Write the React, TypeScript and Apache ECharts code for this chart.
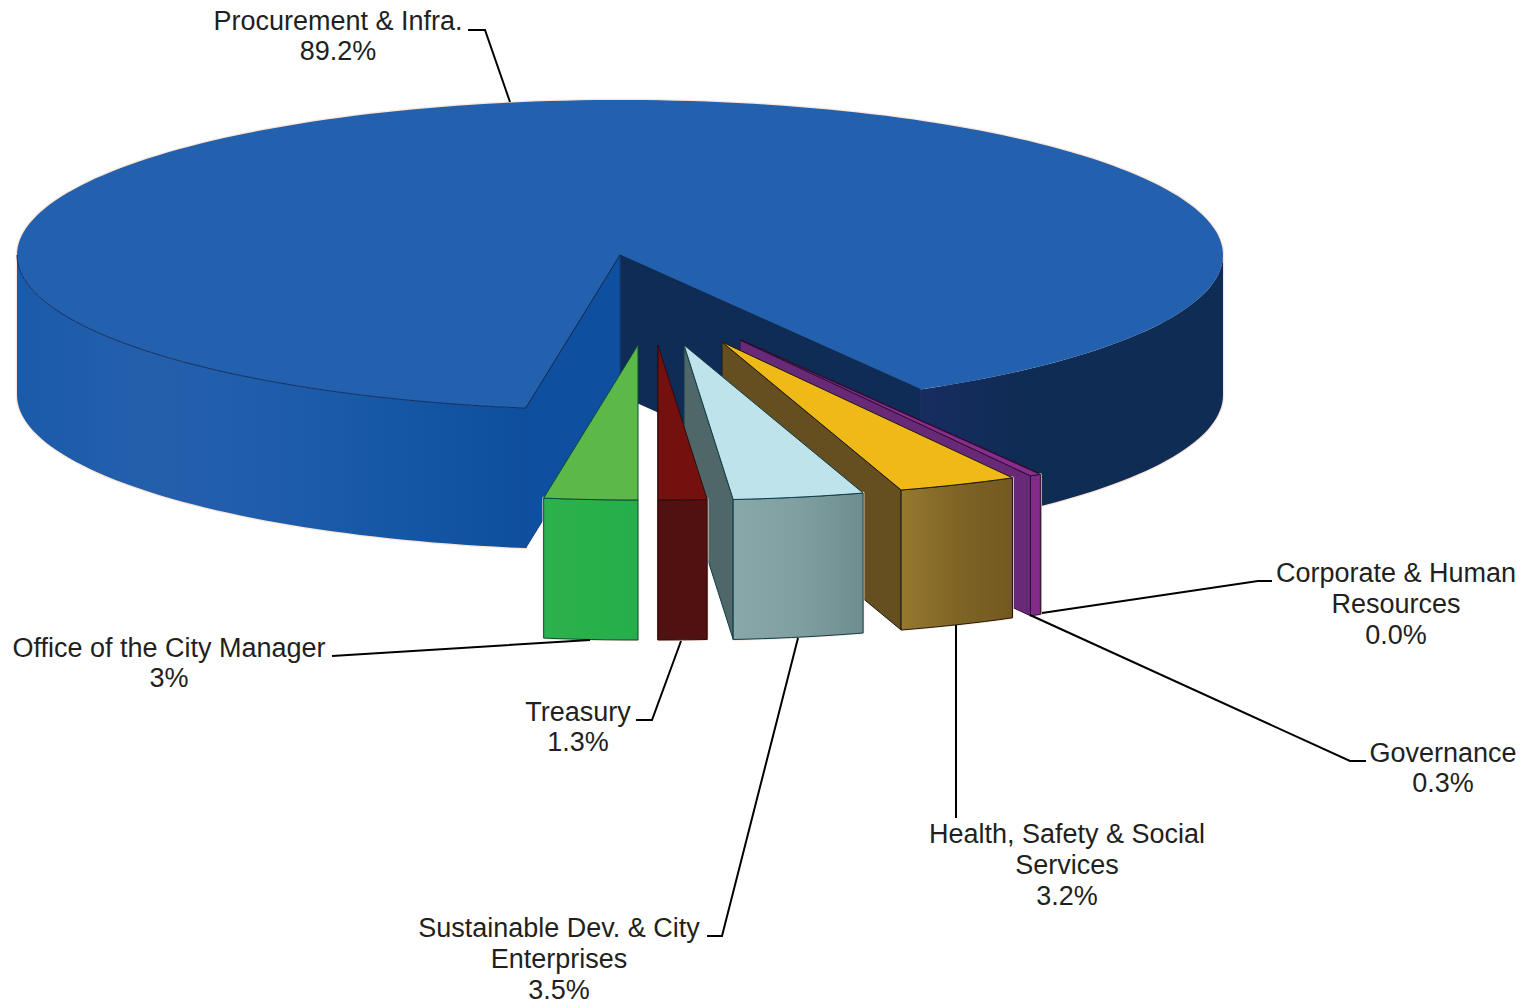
import React, { useEffect, useRef } from "react";
import * as echarts from "echarts";

// ---- data (drawing order = clockwise order round the pie)
const categories = [
  "Procurement & Infra.",
  "Corporate & Human\nResources",
  "Governance",
  "Health, Safety & Social\nServices",
  "Sustainable Dev. & City\nEnterprises",
  "Treasury",
  "Office of the City Manager",
];
const values = [89.2, 0.0, 0.3, 3.2, 3.5, 1.3, 2.5];
const valueLabels = ["89.2%", "0.0%", "0.3%", "3.2%", "3.5%", "1.3%", "3%"];

// ---- geometry of the drawing
const CX = 620;
const CY = 255;
const RX = 603;
const RY = 155;
const DEPTH = 140;
const START_ANGLE = 99;
const STEP = 1.5;

const explode: number[][] = [
  [0, 0],
  [121, 85],
  [120, 85],
  [102, 87],
  [64, 90],
  [38, 90],
  [18, 90],
];

const grad = (...stops: string[]) => ({
  type: "linear",
  x: 0,
  y: 0,
  x2: 1,
  y2: 0,
  colorStops: stops.map((color, i) => ({ offset: i / (stops.length - 1), color })),
});

const sliceStyles = [
  {
    top: "#2360ad",
    highWall: "#0f2c57",
    lowWall: "#0e4f9f",
    outerLeft: grad("#1a5ba9", "#245fac", "#1f5daa", "#1557a5", "#0d4e9d"),
    outerRight: grad("#182c60", "#0f2c55", "#0f2c55", "#0f2c55"),
    stroke: "#102c52",
  },
  { top: "#8a2d8e", highWall: "#842a8b", lowWall: "#842a8b", outerLeft: "#842a8b", outerRight: "#842a8b", stroke: "#2b1030" },
  { top: "#8a2d8e", highWall: "#682a78", lowWall: "#682a78", outerLeft: "#842a8b", outerRight: "#842a8b", stroke: "#2b1030" },
  { top: "#efb917", highWall: "#654f20", lowWall: "#654f20", outerLeft: grad("#96782e", "#7f6426", "#73591f"), outerRight: grad("#96782e", "#7f6426", "#73591f"), stroke: "#1d1a10" },
  { top: "#bfe3ea", highWall: "#4f6769", lowWall: "#4f6769", outerLeft: grad("#89a8a9", "#7f9fa0", "#6f8d8f"), outerRight: grad("#89a8a9", "#7f9fa0", "#6f8d8f"), stroke: "#0f3c48" },
  { top: "#74110f", highWall: "#4c1010", lowWall: "#4c1010", outerLeft: "#521111", outerRight: "#521111", stroke: "#2c0c0c" },
  { top: "#5cb947", highWall: "#2bb14a", lowWall: "#2bb14a", outerLeft: grad("#2cb24c", "#25ae4a"), outerRight: grad("#2cb24c", "#25ae4a"), stroke: "#0f4a3a" },
];

// label centres and leader lines (layout)
const labelCentres: number[][] = [
  [338, 36],
  [1396, 604],
  [1443, 768],
  [1067, 865],
  [559, 959],
  [578, 727],
  [169, 663],
];
const leaders: number[][][] = [
  [[468, 30], [485, 30], [510, 102]],
  [[1042, 613], [1258, 581], [1272, 581]],
  [[1030, 615], [1350, 761], [1366, 761]],
  [[956, 625], [956, 818]],
  [[798, 638], [722, 936], [707, 936]],
  [[681, 641], [652, 720], [636, 720]],
  [[590, 640], [348, 655], [332, 656]],
];

const DEG = Math.PI / 180;
const pt = (ox: number, oy: number, a: number, dy = 0) => [
  ox + RX * Math.cos(a * DEG),
  oy + RY * Math.sin(a * DEG) + dy,
];
const arc = (ox: number, oy: number, a0: number, a1: number, dy = 0) => {
  const out: number[][] = [];
  const n = Math.max(1, Math.ceil((a1 - a0) / STEP));
  for (let i = 0; i <= n; i++) out.push(pt(ox, oy, a0 + ((a1 - a0) * i) / n, dy));
  return out;
};

const sweepOf = (i: number) => {
  const total = values.reduce((s, v) => s + v, 0);
  let a = START_ANGLE;
  for (let k = 0; k < i; k++) a += (values[k] / total) * 360;
  return [a, a + (values[i] / total) * 360];
};

const poly = (points: number[][], fill: any, stroke: any, lineWidth = 1) => ({
  type: "polygon",
  silent: true,
  shape: { points },
  style: { fill, stroke, lineWidth, lineJoin: "round" },
});
const line = (points: number[][], stroke: string, lineWidth = 1) => ({
  type: "polyline",
  silent: true,
  shape: { points },
  style: { fill: null, stroke, lineWidth, lineJoin: "miter" },
});

const HALO = "#fbe5da";

function renderSlice(params: any) {
  const i = params.dataIndex;
  const [a0, a1] = sweepOf(i);
  const [ex, ey] = explode[i];
  const ox = CX + ex;
  const oy = CY + ey;
  const st = sliceStyles[i];
  const isMain = i === 0;
  const shapes: any[] = [];

  const apexBottom = [ox, oy + DEPTH];
  const wall = (a: number) => {
    const p = pt(ox, oy, a);
    return [[ox, oy], p, [p[0], p[1] + DEPTH], apexBottom];
  };
  const outerSegs: { pts: number[][]; fill: any }[] = [];
  const addOuter = (from: number, to: number, fill: any) => {
    const s = Math.max(a0, from);
    const e = Math.min(a1, to);
    if (e <= s) return;
    const up = arc(ox, oy, s, e);
    const down = arc(ox, oy, s, e, DEPTH).reverse();
    outerSegs.push({ pts: [...up, ...down], fill });
  };
  addOuter(0, 180, st.outerLeft);
  addOuter(360, 540, st.outerRight);
  const topFace = [[ox, oy], ...arc(ox, oy, a0, a1)];

  // soft fringe round the silhouette
  outerSegs.forEach((s) => shapes.push(poly(s.pts, HALO, HALO, 2.5)));
  if (isMain) shapes.push(poly(topFace, HALO, HALO, 2.5));

  const strokeW = 1;
  if (Math.cos(a1 * DEG) > 0) shapes.push(poly(wall(a1), st.highWall, st.stroke, strokeW));
  if (Math.cos(a0 * DEG) < 0) shapes.push(poly(wall(a0), st.lowWall, isMain ? "#123f80" : st.stroke, strokeW));
  outerSegs.forEach((s) => shapes.push(poly(s.pts, s.fill, isMain ? "none" : st.stroke, strokeW)));
  shapes.push(poly(topFace, st.top, isMain ? "none" : st.stroke, strokeW));
  if (isMain) {
    shapes.push(
      line([pt(ox, oy, a1), [ox, oy], pt(ox, oy, a0)], "#10294a", 1),
      line(arc(ox, oy, a0, 180), "#12305e", 1),
    );
  }
  return { type: "group", children: shapes };
}

function renderLabel(params: any) {
  const i = params.dataIndex;
  return {
    type: "group",
    children: [
      line(leaders[i], "#000000", 2),
      {
        type: "text",
        silent: true,
        style: {
          text: `${categories[i]}\n${valueLabels[i]}`,
          x: labelCentres[i][0],
          y: labelCentres[i][1],
          align: "center",
          verticalAlign: "middle",
          fill: "#231f20",
          font: '27px "Liberation Sans", Arial, sans-serif',
          lineHeight: 30.6,
        },
      },
    ],
  };
}

export default function App() {
  const ref = useRef<HTMLDivElement>(null);
  useEffect(() => {
    const chart = echarts.init(ref.current!, null, { renderer: "svg" });
    const data = values.map((v, i) => ({ name: categories[i], value: [v] }));
    chart.setOption({
      animation: false,
      backgroundColor: "#ffffff",
      series: [
        { type: "custom", coordinateSystem: "none", clip: false, z: 2, renderItem: renderSlice, data },
        { type: "custom", coordinateSystem: "none", clip: false, z: 3, renderItem: renderLabel, data },
      ],
    });
    return () => chart.dispose();
  }, []);
  return (
    <div
      ref={ref}
      style={{ position: "absolute", left: 0, top: 0, width: 1533, height: 1005 }}
    />
  );
}
